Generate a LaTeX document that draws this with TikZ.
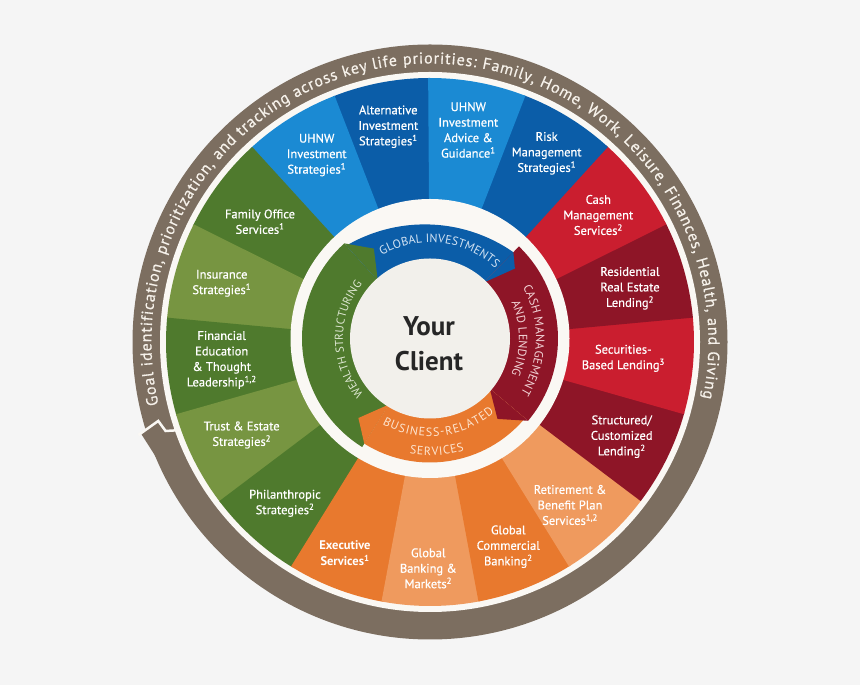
\documentclass[tikz,border=0pt]{standalone}
\usepackage{fontspec}
\setmainfont{PT Sans}
\newfontfamily\medfont{PT Sans}[FakeBold=0.6]
\usetikzlibrary{decorations.text,calc}
\definecolor{bg}{HTML}{F5F5F5}
\definecolor{offw}{HTML}{FAF8F4}
\definecolor{core}{HTML}{F2F0EB}
\definecolor{brownring}{HTML}{7C6E60}
\definecolor{ringtext}{HTML}{F6F1EA}
\definecolor{blueL}{HTML}{1B8AD3}
\definecolor{blueD}{HTML}{0B5DA8}
\definecolor{greenD}{HTML}{4F7A2D}
\definecolor{greenL}{HTML}{779541}
\definecolor{orangeM}{HTML}{E8792E}
\definecolor{orangeL}{HTML}{EF9A5E}
\definecolor{redL}{HTML}{CA1E2F}
\definecolor{redD}{HTML}{8E1527}
\definecolor{tintblue}{HTML}{D3E3F3}
\definecolor{tintred}{HTML}{F2D3D6}
\definecolor{tintorange}{HTML}{FDE5D0}
\definecolor{tintgreen}{HTML}{DFE8D3}
\tikzset{
  seglabel/.style={align=center, text=white, font=\medfont\fontsize{12.5}{15.5}\selectfont, inner sep=0pt},
  arctext/.style={decorate, decoration={text along path, text align=fit to path, text={#1}}}
}
\begin{document}
\begin{tikzpicture}[x=1pt,y=1pt]
\useasboundingbox (0,0) rectangle (860,685);
\fill[bg] (0,0) rectangle (860,685);
\coordinate (C1) at (430,343);
\coordinate (C2) at (430,346.5);

% outer ring, arrow and segments
\begin{scope}[shift={(C1)}]
  \fill[brownring] (0,0) circle[radius=297.5];
  \fill[brownring] (197.0:297) -- (197.7:303) -- (203:297) -- cycle;
  \fill[offw] (0,0) circle[radius=270];
  \draw[offw, line width=2.5pt, line join=miter] (197.7:306) -- (196.2:283) -- (198.6:279) -- (199.3:267);
  \path[arctext={|\medfont\fontsize{16}{16}\selectfont\color{ringtext}|Goal identification, prioritization, and tracking across key life priorities: Family, Home, Work, Leisure, Finances, Health, and Giving}]
    (193:278.5) arc[start angle=193, end angle=-11.6, radius=278.5];
  \foreach \k/\col in {0/blueD,1/blueL,2/greenD,3/greenL,4/greenD,5/greenL,6/greenD,7/orangeM,8/orangeL,9/orangeM,10/orangeL,11/redD,12/redL,13/redD,14/redL,15/blueD,16/blueL}{
    \pgfmathsetmacro\sa{90+\k*360/17}
    \pgfmathsetmacro\sb{90+(\k+1)*360/17+0.4}
    \fill[\col] (0,0) -- (\sa:264) arc[start angle=\sa, end angle=\sb, radius=264] -- cycle;
  }
\end{scope}

% inner category ring
\begin{scope}[shift={(C2)}]
  \fill[offw] (0,0) circle[radius=139.5];
  \fill[greenD] (238:78) -- (238:128) arc[start angle=238, end angle=132, radius=128] -- (132:78) arc[start angle=132, end angle=238, radius=78] -- cycle;
  \fill[blueD] (46:78) -- plot[domain=46:132, samples=44] (\x:{114+0.00463*(\x-90)*(\x-90)+0.0674*(\x-90)}) -- (132:78) arc[start angle=132, end angle=46, radius=78] -- cycle;
  \fill[redD] (46:78) -- (46:128) arc[start angle=46, end angle=-40, radius=128] -- (-40:78) arc[start angle=-40, end angle=46, radius=78] -- cycle;
  \fill[orangeM] (-40:78) -- (-40:124) arc[start angle=-40, end angle=-122, radius=124] -- (-122:78) arc[start angle=-122, end angle=-40, radius=78] -- cycle;
  \fill[greenD] (132:78) -- (122:106) -- (132:128) -- cycle;
  \fill[blueD] (46:78) -- (39.5:110) -- (46:120) -- cycle;
  \fill[redD] (-40:78) -- (-50:105) -- (-40:128) -- cycle;
  \fill[orangeM] (-122:78) -- (-132:107) -- (-122:124) -- cycle;
  \fill[core] (0,0) circle[radius=80];

  \path[arctext={|\fontsize{12}{12}\selectfont\color{tintblue}|GLOBAL INVESTMENTS}]
    (120:96) arc[start angle=120, end angle=47, radius=96];
  \path[arctext={|\fontsize{11.5}{11.5}\selectfont\color{tintgreen}|WEALTH STRUCTURING}]
    (220:87) arc[start angle=220, end angle=141, radius=87];
  \path[arctext={|\fontsize{12}{12}\selectfont\color{tintred}|CASH MANAGEMENT}]
    (29:106) arc[start angle=29, end angle=-31, radius=106];
  \path[arctext={|\fontsize{12}{12}\selectfont\color{tintred}|AND LENDING}]
    (24:89) arc[start angle=24, end angle=-24, radius=89];
  \path[arctext={|\fontsize{12}{12}\selectfont\color{tintorange}|BUSINESS-RELATED}]
    (241:98) arc[start angle=241, end angle=311, radius=98];
  \path[arctext={|\fontsize{12}{12}\selectfont\color{tintorange}|SERVICES}]
    (260:117) arc[start angle=260, end angle=287, radius=117];
\end{scope}

\node[font=\bfseries\fontsize{27}{35}\selectfont, text=black!85, align=center, inner sep=0pt] (client) at (429,341) {Your\\Client};

% segment labels
\node[seglabel] (uhnwstrat) at (316.7,530) {UHNW\\Investment\\Strategies\textsuperscript{1}};
\node[seglabel] (altinv) at (388.3,558.3) {Alternative\\Investment\\Strategies\textsuperscript{1}};
\node[seglabel] (uhnwadv) at (468.3,555) {UHNW\\Investment\\Advice \&\\Guidance\textsuperscript{1}};
\node[seglabel] (riskmgmt) at (546.7,531.7) {Risk\\Management\\Strategies\textsuperscript{1}};
\node[seglabel] (cashmgmt) at (598.3,470) {Cash\\Management\\Services\textsuperscript{2}};
\node[seglabel] (resid) at (630,396.7) {Residential\\Real Estate\\Lending\textsuperscript{2}};
\node[seglabel] (secbased) at (623.3,326.7) {Securities-\\Based Lending\textsuperscript{3}};
\node[seglabel] (struct) at (621.7,248.3) {Structured/\\Customized\\Lending\textsuperscript{2}};
\node[seglabel] (retire) at (570,180) {Retirement \&\\Benefit Plan\\Services\textsuperscript{1,2}};
\node[seglabel] (globcomm) at (508.3,138.3) {Global\\Commercial\\Banking\textsuperscript{2}};
\node[seglabel] (globbank) at (428.3,116.7) {Global\\Banking \&\\Markets\textsuperscript{2}};
\node[seglabel, font=\bfseries\fontsize{12.5}{15.5}\selectfont] (exec) at (345,131.7) {Executive\\Services\textsuperscript{1}};
\node[seglabel] (philan) at (285,181.7) {Philanthropic\\Strategies\textsuperscript{2}};
\node[seglabel] (trust) at (241.7,250) {Trust \& Estate\\Strategies\textsuperscript{2}};
\node[seglabel] (fined) at (221.7,325) {Financial\\Education\\\& Thought\\Leadership\textsuperscript{1,2}};
\node[seglabel] (insur) at (221.7,401.7) {Insurance\\Strategies\textsuperscript{1}};
\node[seglabel] (famoff) at (260,463.3) {Family Office\\Services\textsuperscript{1}};
\end{tikzpicture}
\end{document}
